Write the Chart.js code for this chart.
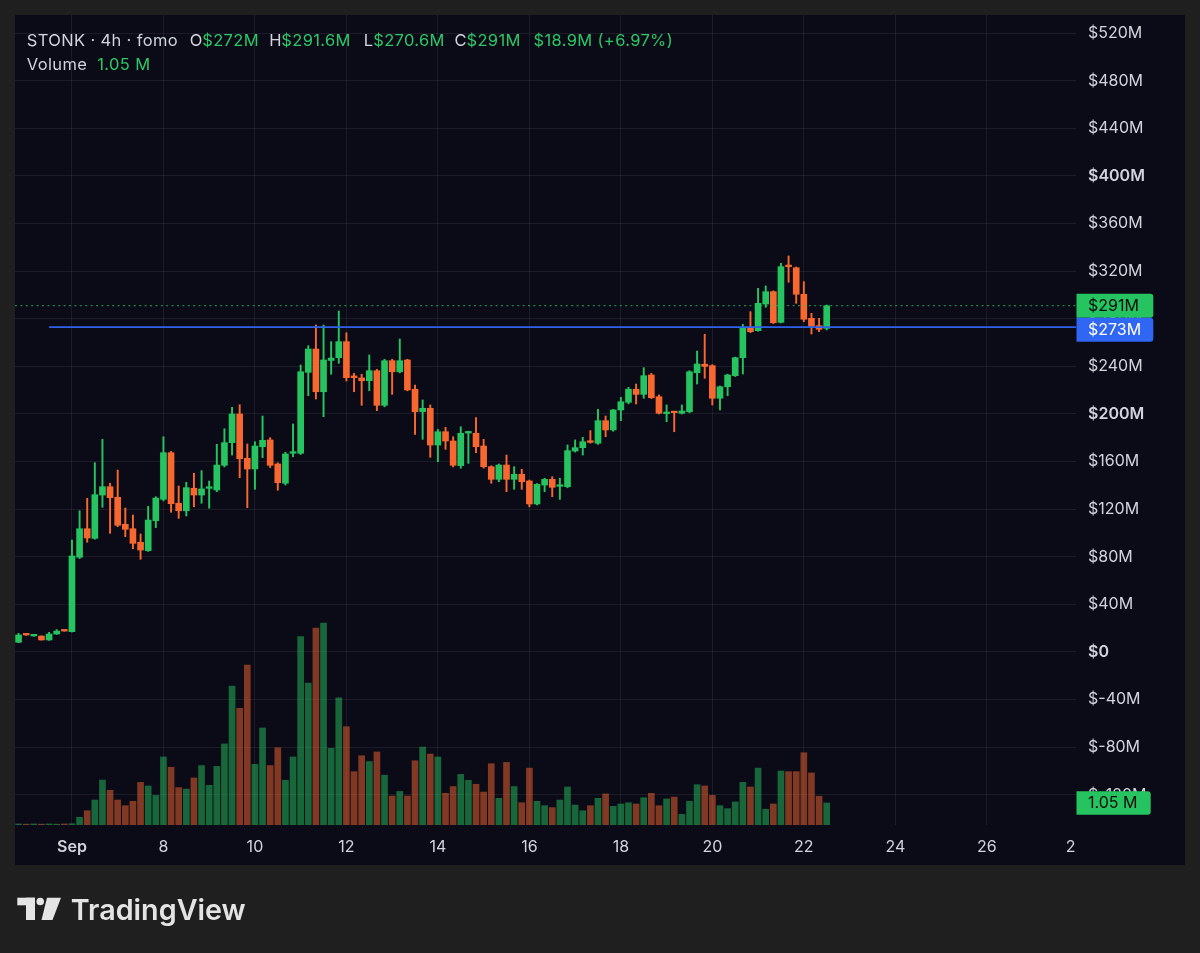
<!DOCTYPE html>
<html><head><meta charset="utf-8">
<script src="https://cdn.jsdelivr.net/npm/chart.js@4.4.1/dist/chart.umd.min.js"></script>
<style>html,body{margin:0;padding:0;background:#1f1f1f;overflow:hidden}canvas{display:block}</style>
</head><body>
<canvas id="c" width="1200" height="953"></canvas>
<script>
// ---- Data ($M), one entry per 4h candle ----
const opens = [8.2,14.8,13.5,13.4,10.1,15.1,18.2,17.1,79.6,103.6,95.5,131.9,138.9,130.0,107.3,103.6,92.2,85.1,110.3,128.3,
167.5,125.0,118.7,137.6,131.9,137.5,136.1,156.9,175.9,200.0,162.8,153.8,172.5,178.2,158.0,141.8,167.0,167.0,235.0,254.6,
218.7,245.0,247.3,260.8,232.0,230.3,228.0,236.4,207.3,244.8,235.5,245.4,220.8,202.0,204.8,173.9,185.1,177.3,156.6,184.0,
183.8,173.1,155.7,145.1,157.1,145.1,149.3,143.7,124.4,140.3,145.1,139.2,138.9,168.9,171.7,177.3,175.4,194.4,186.6,203.4,
209.8,220.8,216.5,232.8,214.5,200.3,201.6,200.6,201.9,234.7,241.8,240.6,213.2,222.9,232.2,247.3,272.5,270.0,292.4,302.8,
277.0,325.0,322.9,300.6,280.4,274.2,272.0];
const highs = [15.7,15.2,14.2,13.6,16.5,18.8,18.5,94.1,118.7,129.1,159.1,178.7,141.8,152.9,121.0,115.1,99.2,122.4,130.5,180.9,
168.5,139.5,142.6,150.2,152.4,143.7,174.5,187.6,205.6,207.8,174.8,176.7,198.3,180.1,159.0,167.8,191.6,241.2,257.4,274.8,
274.8,260.8,286.6,268.3,234.2,233.4,249.6,237.5,246.0,246.0,263.0,246.0,224.4,211.8,207.6,187.1,188.8,180.9,189.3,185.5,
196.9,178.7,156.5,158.0,165.5,155.7,153.5,144.5,141.5,146.0,147.3,146.0,174.0,178.2,180.4,186.0,203.9,198.3,203.9,214.0,
222.4,225.2,238.9,234.2,216.0,207.6,202.0,207.6,236.4,252.9,267.0,241.5,223.5,233.5,247.8,275.4,286.0,305.6,307.6,303.5,
326.6,332.8,323.5,311.2,284.6,280.4,291.6];
const lows = [7.8,14.0,13.2,10.0,9.8,14.8,17.4,16.8,78.5,92.2,94.8,121.6,99.7,105.3,96.9,86.8,77.9,84.5,104.5,127.0,
117.4,112.3,114.3,122.0,125.0,120.8,134.7,155.5,165.5,146.5,121.3,136.7,163.3,155.0,135.9,140.3,164.1,166.0,215.4,212.6,
197.7,233.4,242.6,227.7,218.7,207.3,219.6,202.8,206.0,216.5,234.5,219.5,182.9,178.7,163.6,159.9,170.3,155.5,154.4,158.5,
167.5,154.5,141.8,143.1,134.7,136.7,136.7,122.0,123.5,134.7,130.5,128.3,138.0,168.0,165.5,175.5,174.5,180.9,185.5,194.4,
208.5,208.4,213.2,213.0,200.0,193.5,185.1,200.0,201.0,225.2,230.0,207.6,203.4,215.4,231.5,233.6,268.3,269.5,289.7,276.0,
276.5,310.7,293.0,277.6,267.2,269.2,270.6];
const closes = [14.3,14.3,13.9,10.1,15.1,17.6,17.6,80.7,103.6,95.8,132.2,138.9,129.7,106.5,103.1,91.3,85.7,110.9,129.4,167.5,
124.6,118.7,138.1,131.9,137.0,138.5,157.1,175.9,200.0,162.4,153.8,173.1,177.9,156.9,142.3,166.4,168.0,235.5,254.6,218.7,
245.4,247.0,260.8,230.5,230.5,228.0,236.4,207.3,244.8,235.5,244.8,220.2,201.9,204.8,173.9,185.1,177.3,156.9,183.8,184.6,
172.5,155.7,145.1,157.1,145.1,149.3,143.1,124.4,140.9,145.1,138.4,139.8,169.2,171.7,176.7,176.2,194.4,186.6,203.4,210.3,
220.8,216.5,232.2,213.7,200.6,201.6,201.1,202.5,235.5,242.0,240.0,213.2,222.9,232.8,247.3,272.5,269.2,293.0,302.8,276.7,
323.8,323.8,300.6,279.6,273.9,271.2,291.0];
const volumes = [0.05,0.04,0.05,0.04,0.05,0.04,0.05,0.06,0.37,0.68,1.19,2.14,1.65,1.19,0.92,1.13,2.03,1.86,1.41,3.24,
2.75,1.78,1.71,2.24,2.83,1.89,2.79,3.86,6.62,5.56,7.62,2.89,4.62,2.83,3.68,2.13,3.24,8.97,6.76,9.38,
9.62,3.65,6.06,4.68,2.54,3.30,3.02,3.48,2.37,1.38,1.60,1.38,3.06,3.71,3.38,3.24,1.51,1.83,2.41,2.13,
1.94,1.57,2.92,1.27,2.98,1.83,1.06,2.71,1.13,0.92,0.83,1.19,1.81,0.95,0.68,0.92,1.27,1.48,0.89,1.00,
1.06,1.00,1.30,1.51,0.92,1.24,1.33,0.51,1.13,1.92,1.86,1.41,0.92,0.78,1.10,2.03,1.81,2.71,0.75,1.00,
2.57,2.54,2.54,3.44,2.48,1.37,1.05];
const priceTicks = [-120,-80,-40,0,40,80,120,160,200,240,280,320,360,400,440,480,520];
const dateTickPos = [7,19,31,43,55,67,79,91,103,115,127,138];
const dateTickLabels = ['Sep','8','10','12','14','16','18','20','22','24','26','2'];
const lastPrice = 291;
const lineLevel = 273;
const lineStartIndex = 4;
const lastVolume = 1.05;
const header = {symbol:'STONK · 4h · fomo', o:'$272M', h:'$291.6M', l:'$270.6M', c:'$291M', chg:'$18.9M (+6.97%)', vol:'1.05 M'};

// ---- Styles ----
const UP = '#26c460', DOWN = '#f7672f';
const UPV = 'rgba(38,196,96,0.5)', DOWNV = 'rgba(247,103,47,0.5)';
const TXT = '#d1d4dc';
const FONT = 'Inter, Roboto, "DejaVu Sans", sans-serif';
Chart.defaults.font.family = FONT;

const idx = opens.map((_, i) => i);
const up = idx.map(i => closes[i] >= opens[i]);
const XMIN = -0.47, XMAX = 138.7;

function noPad(s) { s.paddingTop = 0; s.paddingBottom = 0; s.paddingLeft = 0; s.paddingRight = 0; }

const bgPlugin = {
  id: 'bg',
  beforeDraw(chart) {
    const c = chart.ctx;
    c.save();
    c.fillStyle = '#1f1f1f';
    c.fillRect(0, 0, chart.width, chart.height);
    c.fillStyle = '#0b0a17';
    c.fillRect(15, 15, 1170, 850);
    c.restore();
  },
  afterDraw(chart) {
    const c = chart.ctx;
    const ys = chart.scales.y, yv = chart.scales.yv;
    c.save();
    // header (legend text)
    c.font = '16.5px ' + FONT;
    if ('letterSpacing' in c) c.letterSpacing = '0.35px';
    c.textBaseline = 'middle';
    c.textAlign = 'left';
    const G = '#2cc766';
    const Y1 = 41.5, Y2 = 65;
    const items = [
      [header.symbol, TXT, 26.8, Y1], ['O', TXT, 189.7, Y1], [header.o, G, 202.2, Y1],
      ['H', TXT, 269.2, Y1], [header.h, G, 281.3, Y1], ['L', TXT, 363.8, Y1], [header.l, G, 373.2, Y1],
      ['C', TXT, 454.5, Y1], [header.c, G, 466.5, Y1], [header.chg, G, 533.5, Y1],
      ['Volume', TXT, 26.8, Y2], [header.vol, G, 97.3, Y2]
    ];
    items.forEach(([t, col, x, y]) => { c.fillStyle = col; c.fillText(t, x, y); });
    if ('letterSpacing' in c) c.letterSpacing = '0px';

    // price label boxes
    function box(yc, h, x1, text, bg, fg) {
      c.fillStyle = bg;
      c.beginPath();
      c.roundRect(1076.5, yc - h / 2, x1 - 1076.5, h, [0, 3, 3, 0]);
      c.fill();
      c.fillStyle = fg;
      c.font = '16px ' + FONT;
      c.textBaseline = 'middle';
      c.fillText(text, 1088, yc + 0.5);
    }
    const gY = ys.getPixelForValue(lastPrice);
    const bY = Math.max(ys.getPixelForValue(lineLevel), gY + 24);
    box(gY, 24, 1153.3, '$' + lastPrice + 'M', '#26c460', '#0b0b0b');
    box(bY, 24, 1153.3, '$' + lineLevel + 'M', '#2f66f3', '#ffffff');
    box(yv.getPixelForValue(lastVolume), 23.5, 1150.7, header.vol, '#26c460', '#0b0b0b');

    // TradingView logo
    c.fillStyle = '#e4e4e4';
    c.fillRect(17.3, 897.7, 17.7, 7.6);
    c.fillRect(26, 897.7, 9, 22.3);
    c.beginPath(); c.arc(40.2, 901.5, 3.8, 0, Math.PI * 2); c.fill();
    c.beginPath();
    c.moveTo(47, 897.7); c.lineTo(61, 897.7); c.lineTo(52.5, 920); c.lineTo(41.5, 920); c.closePath(); c.fill();
    let lfs = 30;
    c.font = '600 ' + lfs + 'px ' + FONT;
    const tw = c.measureText('TradingView').width;
    lfs = lfs * 175 / tw;
    c.font = '600 ' + lfs.toFixed(2) + 'px ' + FONT;
    c.textBaseline = 'alphabetic';
    c.fillText('TradingView', 70.7, 920);
    c.restore();
  }
};

const wickData = idx.map(i => ({x: i, y: [lows[i], highs[i]]}));
const bodyData = idx.map(i => ({x: i, y: [opens[i], closes[i]]}));
const volData = idx.map(i => ({x: i, y: volumes[i]}));

new Chart(document.getElementById('c'), {
  type: 'bar',
  data: {
    datasets: [
      {type: 'line', data: [{x: XMIN, y: lastPrice}, {x: XMAX, y: lastPrice}], borderColor: 'rgba(38,196,96,0.85)', borderWidth: 1, borderDash: [2, 3.4], pointRadius: 0, yAxisID: 'y', order: 0},
      {type: 'line', data: [{x: lineStartIndex, y: lineLevel}, {x: XMAX, y: lineLevel}], borderColor: '#2f62ea', borderWidth: 1.6, pointRadius: 0, yAxisID: 'y', order: 0},
      {data: bodyData, backgroundColor: up.map(u => u ? UP : DOWN), barThickness: 6, minBarLength: 1.6, grouped: false, yAxisID: 'y', order: 1},
      {data: wickData, backgroundColor: up.map(u => u ? UP : DOWN), barThickness: 1.3, grouped: false, yAxisID: 'y', order: 2},
      {data: volData, backgroundColor: up.map(u => u ? UPV : DOWNV), barThickness: 6, grouped: false, yAxisID: 'yv', order: 3}
    ]
  },
  options: {
    responsive: false,
    animation: false,
    devicePixelRatio: 1,
    events: [],
    layout: {padding: {left: 15, top: 15, right: 0, bottom: 88}},
    plugins: {legend: {display: false}, tooltip: {enabled: false}},
    scales: {
      x: {
        type: 'linear', min: XMIN, max: XMAX, offset: false, bounds: 'data',
        afterBuildTicks: s => { s.ticks = dateTickPos.map(v => ({value: v})); },
        afterFit: s => { s.height = 40; noPad(s); },
        grid: {color: ctx => (ctx.index === dateTickPos.length - 1 ? 'rgba(0,0,0,0)' : 'rgba(255,255,255,0.07)'), drawTicks: false, offset: false},
        border: {display: false},
        ticks: {
          padding: 13, color: TXT, maxRotation: 0, autoSkip: false,
          font: ctx => ({family: FONT, size: 16, weight: (ctx.tick && ctx.tick.value === dateTickPos[0]) ? '600' : '400'}),
          callback: v => { const k = dateTickPos.indexOf(v); return k >= 0 ? dateTickLabels[k] : ''; }
        }
      },
      y: {
        type: 'linear', position: 'right', min: -145.38, max: 535.29, bounds: 'data',
        afterBuildTicks: s => { s.ticks = priceTicks.map(v => ({value: v})); },
        afterFit: s => { s.width = 124; noPad(s); },
        grid: {color: 'rgba(255,255,255,0.07)', drawTicks: false},
        border: {display: false},
        ticks: {
          padding: 12, color: TXT, autoSkip: false,
          font: ctx => ({family: FONT, size: 16, weight: (ctx.tick && ctx.tick.value % 200 === 0) ? '600' : '400'}),
          callback: v => (v === 0 ? '$0' : '$' + v + 'M')
        }
      },
      yv: {type: 'linear', display: false, min: 0, max: 38.57}
    }
  },
  plugins: [bgPlugin]
});
</script>
</body></html>
